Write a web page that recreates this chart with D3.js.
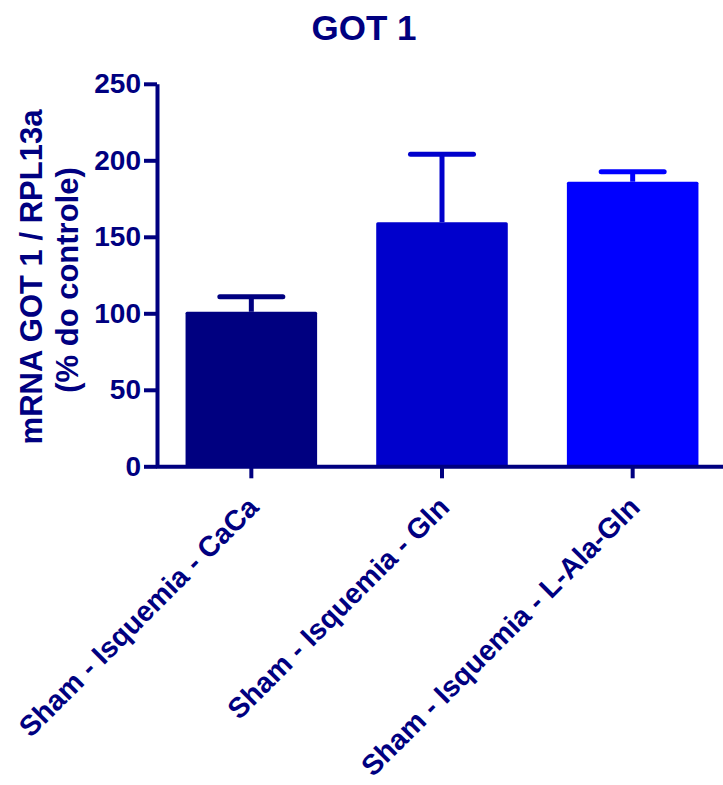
<!DOCTYPE html>
<html>
<head>
<meta charset="utf-8">
<script src="https://cdn.jsdelivr.net/npm/d3@7"></script>
<style>
  body { margin: 0; background: #fff; }
  text { font-family: "Liberation Sans", Arial, Helvetica, sans-serif; font-weight: bold; fill: #000080; }
</style>
</head>
<body>
<svg id="chart" width="723" height="785"></svg>
<script>
var groups = ['Sham - Isquemia - CaCa', 'Sham - Isquemia - Gln', 'Sham - Isquemia - L-Ala-Gln'];
var means = [101, 159.5, 186];
var errors = [9.8, 44.4, 6.5];
var barColors = ['#000080', '#0000CC', '#0000FF'];
var yTicks = [0, 50, 100, 150, 200, 250];

var navy = '#000080';
var svg = d3.select('#chart');

var x = d3.scaleBand()
  .domain(groups)
  .range([156, 728])
  .paddingInner(0.31)
  .paddingOuter(0.155);

var y = d3.scaleLinear()
  .domain([0, 250])
  .range([466.3, 83.8]);

var data = groups.map(function (g, i) {
  return { name: g, mean: means[i], err: errors[i], color: barColors[i] };
});

// title
svg.append('text')
  .attr('x', 364)
  .attr('y', 40)
  .attr('text-anchor', 'middle')
  .style('font-size', '35px')
  .text('GOT 1');

// bars
svg.append('g')
  .selectAll('rect')
  .data(data)
  .enter()
  .append('rect')
  .attr('x', function (d) { return x(d.name); })
  .attr('y', function (d) { return y(d.mean); })
  .attr('width', x.bandwidth())
  .attr('height', function (d) { return y(0) - y(d.mean); })
  .attr('rx', 1.5)
  .attr('fill', function (d) { return d.color; });

// error bars (upper only)
var eb = svg.append('g')
  .selectAll('g')
  .data(data)
  .enter()
  .append('g')
  .attr('stroke', function (d) { return d.color; })
  .attr('stroke-width', 5)
  .attr('stroke-linecap', 'round');

eb.append('line')
  .attr('stroke-linecap', 'butt')
  .attr('x1', function (d) { return x(d.name) + x.bandwidth() / 2; })
  .attr('x2', function (d) { return x(d.name) + x.bandwidth() / 2; })
  .attr('y1', function (d) { return y(d.mean); })
  .attr('y2', function (d) { return y(d.mean + d.err); });

eb.append('line')
  .attr('x1', function (d) { return x(d.name) + x.bandwidth() / 2 - 31.5; })
  .attr('x2', function (d) { return x(d.name) + x.bandwidth() / 2 + 31.5; })
  .attr('y1', function (d) { return y(d.mean + d.err); })
  .attr('y2', function (d) { return y(d.mean + d.err); });

// y axis
var gy = svg.append('g')
  .attr('transform', 'translate(157,0)')
  .call(d3.axisLeft(y).tickValues(yTicks).tickSize(13).tickSizeOuter(0).tickPadding(3));

// x axis
var gx = svg.append('g')
  .attr('transform', 'translate(0,' + y(0) + ')')
  .call(d3.axisBottom(x).tickSize(12).tickSizeOuter(0).tickFormat(''));

[gy, gx].forEach(function (g) {
  g.select('.domain').attr('stroke', navy).attr('stroke-width', 4);
  g.selectAll('.tick line').attr('stroke', navy).attr('stroke-width', 4);
});
gy.selectAll('.tick text')
  .attr('fill', navy)
  .style('font-size', '28px')
  .style('font-family', '"Liberation Sans", Arial, sans-serif');

// rotated category labels
svg.append('g')
  .selectAll('text')
  .data(groups)
  .enter()
  .append('text')
  .attr('text-anchor', 'end')
  .attr('transform', function (d) {
    return 'translate(' + (x(d) + x.bandwidth() / 2 + 9) + ',509) rotate(-45)';
  })
  .style('font-size', '28.5px')
  .text(function (d) { return d; });

// y axis title
var yTitle = svg.append('text')
  .attr('transform', 'rotate(-90)')
  .attr('text-anchor', 'middle')
  .style('font-size', '31px');
yTitle.append('tspan').attr('x', -277).attr('y', 42).text('mRNA GOT 1 / RPL13a');
yTitle.append('tspan').attr('x', -280).attr('y', 78).text('(% do controle)');
</script>
</body>
</html>
